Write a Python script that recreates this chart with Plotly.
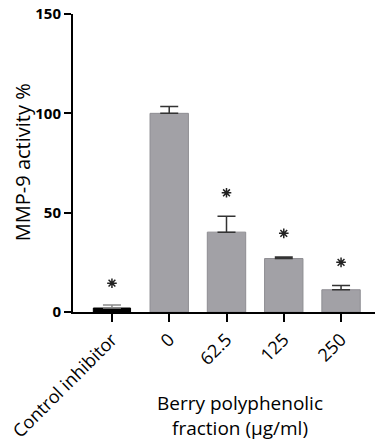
import plotly.graph_objects as go

categories = ["Control inhibitor", "0", "62.5", "125", "250"]
means = [2.0, 100.0, 40.2, 26.9, 11.2]
errors = [1.5, 3.5, 8.0, 0.8, 2.2]
star_y = [14.5, None, 60.0, 39.6, 25.0]

fig = go.Figure()

# control inhibitor bar (black)
fig.add_trace(go.Bar(
    x=[0], y=[means[0]], width=0.65,
    marker=dict(color="#000000", line=dict(color="#000000", width=1)),
    error_y=dict(type="data", symmetric=False, array=[errors[0]], arrayminus=[0],
                 color="#8a8a8a", thickness=1.5, width=9),
    showlegend=False, hoverinfo="skip"))

# berry fraction bars (gray)
fig.add_trace(go.Bar(
    x=list(range(1, len(categories))), y=means[1:], width=0.67,
    marker=dict(color="#a2a1a6", line=dict(color="#8e8d92", width=1)),
    error_y=dict(type="data", symmetric=False, array=errors[1:], arrayminus=[0]*4,
                 color="#333333", thickness=1.5, width=9),
    showlegend=False, hoverinfo="skip"))

sx = [i for i, v in enumerate(star_y) if v is not None]
sy = [v for v in star_y if v is not None]
fig.add_trace(go.Scatter(
    x=sx, y=sy, mode="markers",
    marker=dict(symbol="asterisk-open", size=8, color="#222222",
                line=dict(color="#222222", width=1.5)),
    showlegend=False, hoverinfo="skip"))

font_family = "Open Sans, Lato, sans-serif"

# the page body adds an 8px offset, so the figure is 375x435
fig.update_layout(
    width=375, height=435,
    margin=dict(l=65, r=3, t=6, b=131, autoexpand=False),
    plot_bgcolor="white", paper_bgcolor="white",
    xaxis=dict(
        range=[-0.68, 4.68], automargin=False,
        tickmode="array", tickvals=list(range(len(categories))), ticktext=categories,
        tickangle=-45, ticks="outside", ticklen=8, tickwidth=2, tickcolor="#000",
        showline=True, linecolor="#000", linewidth=2, showgrid=False, zeroline=False,
        tickfont=dict(family=font_family, size=18, color="#000"),
        ticklabeloverflow="allow",
    ),
    yaxis=dict(
        range=[0, 150], tickvals=[0, 50, 100, 150], automargin=False,
        ticks="outside", ticklen=7, tickwidth=2, tickcolor="#000",
        showline=True, linecolor="#000", linewidth=2, showgrid=False, zeroline=False,
        tickfont=dict(family=font_family, size=15, color="#000", weight="bold"),
        ticklabeloverflow="allow",
    ),
    annotations=[
        dict(text="Berry polyphenolic<br>fraction (µg/ml)", x=0.544, y=-0.346,
             xref="paper", yref="paper", showarrow=False, xanchor="center", yanchor="middle",
             font=dict(family=font_family, size=19, color="#000"), align="center"),
        dict(text="MMP-9 activity %", x=-0.166, y=0.503, xref="paper", yref="paper",
             textangle=-90, showarrow=False, xanchor="center", yanchor="middle",
             font=dict(family=font_family, size=20, color="#000")),
    ],
)

fig.write_html("out.html")
